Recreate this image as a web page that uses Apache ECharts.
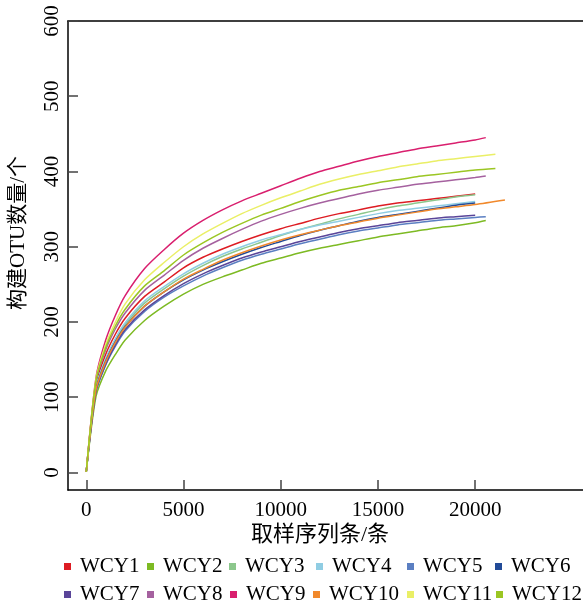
<!DOCTYPE html>
<html>
<head>
<meta charset="utf-8">
<script src="https://cdn.jsdelivr.net/npm/echarts@6/dist/echarts.min.js"></script>
<style>html,body{margin:0;padding:0;background:#fff;}#c{width:583px;height:606px;}</style>
</head>
<body>
<div id="c"></div>
<script>
var depths = [0,500,1000,1500,2000,3000,4000,5000,6000,7000,8000,9000,10000,11000,12000,13000,14000,15000,16000,17000,18000,19000,20000];
var names = ['WCY1','WCY2','WCY3','WCY4','WCY5','WCY6','WCY7','WCY8','WCY9','WCY10','WCY11','WCY12'];
var colors = ['#dd1c23','#7dba23','#8cc78c','#90cde3','#5b7fc2','#224b98','#5a4599','#a5619f','#d91f6e','#f1892c','#eaef66','#9bc623'];
var wcy1  = [1,118,157,184,205,234,253,272,286,297,307,316,324,331,338,344,349,354,358,361,364,367,370];
var wcy2  = [1,101,135,157,176,202,221,237,250,260,269,278,285,292,298,303,308,313,317,321,325,328,332];
var wcy3  = [1,113,150,177,197,225,244,261,275,287,297,306,315,323,330,337,343,349,354,358,362,366,369];
var wcy4  = [1,113,151,178,199,228,247,264,278,290,300,309,316,323,329,334,339,344,348,351,354,357,360];
var wcy5  = [1,107,143,168,188,214,233,248,261,272,282,290,297,304,310,316,321,325,329,332,335,337,339];
var wcy6  = [1,111,148,174,194,221,240,256,269,280,290,299,307,315,322,328,334,339,343,347,351,355,358];
var wcy7  = [1,108,144,170,190,216,235,251,264,275,285,293,300,307,313,319,324,328,332,335,338,340,342];
var wcy8  = [1,121,163,191,212,242,262,282,298,311,323,334,343,351,358,364,370,375,379,383,386,389,392];
var wcy9  = [1,126,176,209,235,271,296,318,335,349,361,371,381,391,400,407,414,420,425,430,434,438,442];
var wcy10 = [1,110,147,173,193,221,240,257,270,282,292,301,309,316,322,328,333,338,342,346,350,353,356];
var wcy11 = [1,124,170,200,224,256,279,300,317,331,344,355,365,374,383,390,396,401,406,410,414,417,420];
var wcy12 = [1,122,166,195,217,248,268,289,305,319,331,342,351,360,368,375,380,385,389,393,396,399,402];
var endDepth = [20000,20545,20000,20000,20545,20000,20000,20545,20545,21530,21040,21040];
var endValue = [370,335,369,360,340,358,342,394,445,362,423,404];
var xTicks = [0,5000,10000,15000,20000];
var yTicks = [0,100,200,300,400,500,600];

var allValues = [wcy1,wcy2,wcy3,wcy4,wcy5,wcy6,wcy7,wcy8,wcy9,wcy10,wcy11,wcy12];
var FONT = '"Liberation Serif","Times New Roman","Noto Sans CJK SC",serif';

var series = names.map(function(n, i){
  var d = depths.map(function(x, j){ return [x, allValues[i][j]]; });
  if (endDepth[i] > depths[depths.length-1]) d.push([endDepth[i], endValue[i]]);
  return {
    name: n, type: 'line', data: d, showSymbol: false, symbol: 'none',
    smooth: 0.25, lineStyle: {width: 1.5, color: colors[i]}, itemStyle: {color: colors[i]},
    emphasis: {disabled: true}, animation: false
  };
});

var legLeft = [64,147,229,316,407,495, 64,147,230,313,407,496];
var legTop  = [556,556,556,556,556,556, 584,584,584,584,584,584];
var legends = names.map(function(n, i){
  return {
    data: [n], left: legLeft[i], top: legTop[i], padding: 0,
    itemWidth: 7, itemHeight: 7, icon: 'rect', selectedMode: false,
    textStyle: {fontFamily: FONT, fontSize: 21, color: '#000', lineHeight: 21, padding: [0,0,0,4]}
  };
});

var chart = echarts.init(document.getElementById('c'), null, {renderer: 'canvas'});
chart.setOption({
  animation: false,
  color: colors,
  grid: {left: 68, top: 21, right: -20, bottom: 116, containLabel: false},
  legend: legends,
  xAxis: [{
    type: 'value', min: -940, max: 25545, position: 'bottom',
    splitLine: {show: false},
    axisLine: {show: true, onZero: false, lineStyle: {color: '#000', width: 1.5}},
    axisTick: {show: true, inside: true, length: 10, customValues: xTicks, lineStyle: {color: '#444', width: 1.5}},
    axisLabel: {customValues: xTicks, margin: 10, fontFamily: FONT, fontSize: 21, color: '#000',
      formatter: function(v){ return String(v); }}
  }, {
    type: 'value', min: -940, max: 25545, position: 'top',
    splitLine: {show: false},
    axisLine: {show: true, onZero: false, lineStyle: {color: '#000', width: 1.5}},
    axisTick: {show: false}, axisLabel: {show: false}
  }],
  yAxis: [{
    type: 'value', min: -23.3, max: 600, position: 'left',
    splitLine: {show: false},
    axisLine: {show: true, onZero: false, lineStyle: {color: '#000', width: 1.5}},
    axisTick: {show: true, inside: true, length: 10, customValues: yTicks, lineStyle: {color: '#444', width: 1.5}},
    axisLabel: {customValues: yTicks, rotate: 90, margin: 5, fontFamily: FONT, fontSize: 21, color: '#000',
      formatter: function(v){ return String(v); }}
  }],
  graphic: [
    {type: 'text', x: 320, y: 535, style: {text: '取样序列条/条', font: '22px ' + FONT, fill: '#000', align: 'center', verticalAlign: 'middle'}},
    {type: 'text', x: 18, y: 233, rotation: Math.PI/2, style: {text: '构建OTU数量/个', font: '21px ' + FONT, fill: '#000', align: 'center', verticalAlign: 'middle'}}
  ],
  series: series
});
</script>
</body>
</html>
